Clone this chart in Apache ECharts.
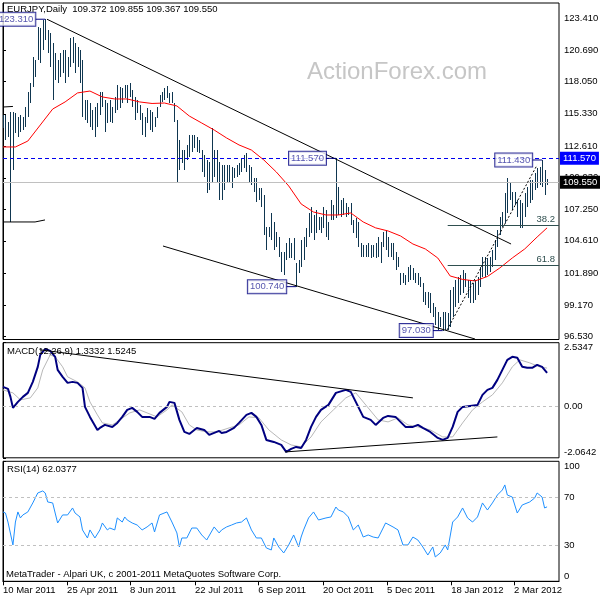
<!DOCTYPE html>
<html><head><meta charset="utf-8">
<script src="https://cdn.jsdelivr.net/npm/echarts@6/dist/echarts.min.js"></script>
<style>html,body{margin:0;padding:0;background:#fff}#c{width:600px;height:600px}</style>
</head><body><div id="c"></div>
<script>
// ---------------- data ----------------
const priceTickLabels = ['96.530','99.170','101.890','104.610','107.250','109.930','112.610','115.330','118.050','120.690','123.410'];
const dateLabels = ['10 Mar 2011','25 Apr 2011','8 Jun 2011','22 Jul 2011','6 Sep 2011','20 Oct 2011','5 Dec 2011','18 Jan 2012','2 Mar 2012'];
const dateTickIdx = [0, 25.8, 51.1, 77.3, 102.7, 128.8, 154.6, 180.4, 205.7];
const macdTickVals = [-2.0642, 0, 2.5347];
const macdTickLabels = ['-2.0642', '0.00', '2.5347'];
const rsiTickVals = [0, 30, 70, 100];

const highs = [
115.23,115.23,114.64,115.48,115.48,115.40,115.06,115.23,115.06,115.90,
117.17,117.93,120.12,119.87,122.65,122.57,123.25,123.31,122.40,122.15,
121.30,120.46,119.87,120.46,120.71,120.71,120.12,121.73,121.81,121.30,
120.97,120.71,119.87,116.49,116.49,116.24,115.65,115.90,116.24,117.17,
117.17,116.49,116.24,116.49,115.90,116.75,117.76,117.59,117.51,117.76,
117.76,117.93,117.34,116.75,116.49,116.07,115.40,115.06,115.82,115.65,
115.48,115.06,115.90,116.92,117.17,117.51,117.68,117.09,117.17,116.24,
114.81,113.12,112.27,112.27,112.70,113.54,113.54,113.54,113.37,113.12,
112.27,111.85,111.43,111.26,114.13,112.27,112.27,111.26,111.01,111.01,
111.01,111.01,110.84,110.76,111.01,111.18,111.60,111.85,112.02,111.01,
110.84,109.91,109.91,109.07,109.07,108.48,105.78,105.78,106.96,106.20,
105.36,104.93,103.67,103.67,104.43,104.85,104.43,104.85,102.74,102.99,
104.68,104.93,105.70,106.96,107.47,106.79,107.21,106.62,106.62,107.47,
107.21,106.20,108.06,107.63,111.57,109.15,108.06,108.23,107.80,107.47,
107.80,106.37,106.54,106.20,104.43,104.26,104.26,104.43,104.26,104.26,
104.43,104.93,104.51,105.36,105.53,104.93,104.43,104.43,103.67,103.25,
101.89,101.89,101.73,102.40,102.57,102.32,101.89,101.89,101.56,101.05,
100.29,100.29,100.21,99.37,99.03,98.60,98.18,98.60,98.60,98.52,
100.46,100.71,101.30,101.56,101.73,102.15,101.89,101.30,101.30,101.05,
101.30,101.56,102.40,103.25,103.25,103.16,103.25,103.84,104.68,105.53,
106.62,107.04,108.65,109.91,109.57,108.73,108.73,108.06,108.06,107.80,
108.65,109.15,109.74,109.74,110.33,110.76,110.84,111.43,110.59,109.855];
const lows = [
114.13,113.12,113.37,106.20,110.59,113.71,113.37,113.79,113.96,114.22,
115.06,116.24,117.59,118.44,119.87,119.62,120.71,121.56,120.46,119.28,
116.49,118.18,117.93,118.44,118.77,117.93,118.44,119.28,119.62,118.77,
119.28,117.93,115.06,114.81,114.55,114.22,113.96,113.37,114.22,115.23,
115.90,113.79,114.55,114.64,114.55,115.40,115.65,115.82,116.24,116.66,
116.24,116.75,115.90,114.81,115.40,114.81,113.54,113.37,114.55,113.96,
113.79,114.22,114.98,115.90,116.33,116.49,116.66,116.24,116.24,114.64,
109.49,110.59,111.18,110.59,111.43,111.68,112.11,112.44,112.11,112.02,
110.42,110.00,108.65,108.90,109.49,110.00,109.57,108.06,108.06,108.90,
109.57,109.49,109.07,109.91,110.00,110.17,110.42,110.76,110.42,109.57,
109.32,108.73,107.89,108.06,107.47,105.10,103.84,104.93,104.68,103.84,
104.09,103.25,101.98,101.73,102.99,103.16,103.16,102.99,100.74,101.89,
102.40,102.99,104.09,104.93,105.27,104.68,105.27,105.53,105.27,105.70,
104.93,104.68,106.37,106.37,106.54,106.79,106.62,106.79,106.62,106.79,
105.95,105.27,104.85,104.09,103.25,103.25,103.25,103.25,103.16,103.25,
103.16,103.25,102.74,104.09,103.84,103.25,103.25,102.99,102.15,102.40,
100.88,101.05,100.88,101.13,101.30,101.30,101.05,100.88,100.71,99.45,
99.20,98.94,98.52,98.18,97.51,97.08,97.34,97.03,97.08,97.08,
97.34,98.18,99.03,99.37,100.04,100.21,100.71,99.79,99.37,99.37,
99.62,100.04,100.71,101.56,101.56,101.73,101.98,102.40,102.99,104.09,
105.10,105.78,106.12,106.96,108.06,107.21,107.63,106.62,105.70,105.70,
106.62,107.47,107.80,108.06,108.90,109.07,109.32,109.15,108.48,109.367];

const maPts = [[0,112.53],[5,112.53],[10,113.03],[15,114.38],[20,115.73],[25,116.33],[30,117.09],[35,117.25],[40,116.75],[45,116.58],[50,116.58],[55,116.33],[60,116.20],[65,116.24],[70,115.99],[75,115.14],[80,114.55],[85,113.96],[90,113.29],[95,112.70],[100,112.27],[105,111.43],[110,110.42],[115,109.24],[120,107.72],[125,107.04],[130,106.79],[135,106.79],[140,106.96],[145,106.20],[150,105.70],[155,105.44],[160,105.02],[165,104.34],[170,103.92],[175,103.16],[180,101.64],[185,101.35],[190,101.22],[195,101.60],[200,102.32],[205,103.16],[210,103.92],[215,104.93],[219,105.70]];

const macdPts = [[0,0.77],[2,0.69],[3,0.37],[4,-0.07],[6,0.17],[8,0.37],[10,0.53],[12,0.97],[14,1.57],[15,2.05],[17,2.29],[19,2.21],[21,1.97],[22,1.45],[24,1.17],[26,0.93],[28,0.97],[30,0.93],[32,0.73],[33,-0.03],[35,-0.43],[38,-0.95],[39,-0.87],[41,-0.75],[44,-0.83],[46,-0.67],[48,-0.43],[50,-0.15],[52,-0.07],[54,-0.23],[56,-0.43],[59,-0.43],[61,-0.51],[63,-0.27],[66,-0.03],[67,0.17],[69,0.13],[71,-0.55],[73,-1.03],[75,-1.11],[76,-1.03],[78,-0.87],[81,-0.95],[83,-1.15],[85,-1.07],[87,-0.99],[88,-1.07],[90,-1.03],[93,-0.87],[95,-0.67],[98,-0.35],[100,-0.27],[102,-0.43],[104,-0.75],[106,-1.35],[109,-1.43],[112,-1.55],[114,-1.83],[116,-1.71],[118,-1.63],[120,-1.67],[122,-1.35],[124,-0.83],[126,-0.43],[128,-0.15],[131,0.05],[134,0.53],[138,0.65],[140,0.57],[143,-0.03],[145,-0.43],[148,-0.55],[150,-0.75],[153,-0.47],[155,-0.39],[158,-0.43],[160,-0.63],[162,-0.83],[165,-0.83],[167,-0.75],[169,-0.87],[172,-1.03],[175,-1.27],[177,-1.35],[179,-1.27],[181,-0.83],[183,-0.23],[185,-0.03],[188,0.01],[191,0.05],[193,0.45],[195,0.65],[197,0.73],[199,1.05],[201,1.45],[203,1.85],[205,1.97],[207,1.93],[209,1.57],[211,1.53],[213,1.53],[215,1.65],[217,1.57],[219,1.33]];

const signalPts = [[0,0.65],[4,0.53],[7,0.25],[11,0.33],[14,0.73],[16,1.45],[19,2.05],[21,1.97],[24,1.57],[26,1.17],[30,0.97],[33,0.73],[35,0.17],[38,-0.35],[40,-0.67],[44,-0.75],[47,-0.55],[51,-0.27],[55,-0.15],[58,-0.27],[62,-0.43],[66,-0.15],[68,0.05],[72,-0.23],[75,-0.75],[78,-0.95],[82,-1.03],[86,-1.03],[91,-0.87],[95,-0.75],[99,-0.43],[103,-0.47],[107,-0.95],[112,-1.35],[116,-1.55],[120,-1.63],[124,-1.23],[128,-0.63],[133,-0.15],[138,0.33],[142,0.53],[147,-0.07],[151,-0.55],[155,-0.63],[159,-0.47],[163,-0.75],[167,-0.83],[172,-0.95],[177,-1.23],[181,-1.23],[185,-0.67],[189,-0.15],[193,0.17],[197,0.45],[201,0.93],[205,1.57],[208,1.85],[212,1.73],[216,1.57],[219,1.52]];

const rsiPts = [[0,57.8],[1,56.9],[2,49.4],[4,30.3],[5,49.4],[6,57.8],[7,52.8],[8,55.3],[10,57.8],[12,65.3],[14,73.6],[16,75.3],[17,73.6],[18,66.1],[20,65.3],[21,56.9],[22,48.6],[24,55.3],[26,55.3],[28,61.1],[29,56.9],[31,53.6],[32,42.8],[34,36.1],[35,42.8],[37,36.1],[39,42.8],[40,48.6],[42,42.8],[43,44.4],[45,42.8],[46,52.8],[48,49.4],[49,53.6],[50,51.1],[52,48.6],[54,46.9],[56,42.8],[58,45.3],[60,48.6],[61,41.1],[63,55.3],[66,57.8],[67,53.6],[68,49.4],[70,40.3],[71,28.6],[72,36.1],[74,36.1],[76,44.4],[78,44.4],[80,38.6],[82,34.4],[85,45.3],[87,40.3],[88,42.8],[90,45.3],[92,46.9],[94,48.6],[96,49.4],[98,52.8],[100,42.8],[102,36.1],[104,36.1],[106,27.8],[108,26.1],[109,36.1],[111,28.6],[113,23.6],[115,30.3],[117,38.6],[119,28.6],[120,36.9],[121,42.8],[123,52.8],[125,57.8],[127,51.1],[130,52.8],[132,53.6],[134,61.9],[135,59.4],[137,57.8],[139,53.6],[141,42.8],[143,46.9],[145,36.9],[147,38.6],[149,36.9],[151,36.1],[153,44.4],[154,48.6],[157,45.3],[159,42.8],[161,30.3],[163,30.3],[165,36.9],[167,34.4],[169,28.6],[171,21.9],[173,28.6],[174,20.3],[176,23.6],[178,30.3],[179,26.1],[181,49.4],[183,53.6],[185,61.1],[187,52.8],[189,49.4],[191,53.6],[193,65.3],[195,59.4],[197,65.3],[199,71.9],[201,76.1],[202,80.3],[203,71.9],[205,70.2],[207,56.9],[209,63.6],[212,66.1],[214,69.4],[215,73.6],[217,70.2],[218,61.1],[219,62.04]];

// annotations and drawn objects (data coordinates)
const annotIdx = [17, 134, 118, 177, 217];
const annotPrice = [123.31, 111.57, 100.74, 97.03, 111.43];
const annotText = ['123.310', '111.570', '100.740', '97.030', '111.430'];
const priceTrendLines = [
  [[17.7,123.31],[204.5,104.34]],
  [[64.4,104.17],[190,96.32]],
  [[0,106.20],[12.9,106.20],[16.9,106.37]],
  [[0,115.90],[4,115.95]]
];
const risingDashed = [[178.7,97.08],[215,111.01]];
const fibLevels = [105.93, 102.53];
const fibLabels = ['38.2', '61.8'];
const fibStartIdx = 179;
const resistance = 111.57, lastClose = 109.55;
const macdTrendLines = [
  [[14.9,2.25],[165,0.33]],
  [[113.5,-1.83],[199,-1.23]]
];
const headerText = 'EURJPY,Daily  109.372 109.855 109.367 109.550';
const macdTitle = 'MACD(12,26,9) 1.3332 1.5245';
const rsiTitle = 'RSI(14) 62.0377';
const footerText = 'MetaTrader - Alpari UK, c 2001-2011 MetaQuotes Software Corp.';
const watermark = 'ActionForex.com';

// ---------------- chart ----------------
const FONT = 'Liberation Sans';
const FS = 9.5;
const X_MAX = 223.8;
const LEAD = 4;
const chart = echarts.init(document.getElementById('c'));

const bars = highs.map((h, i) => [i, h, lows[i]]);
const series = [];

series.push({
  type: 'custom', xAxisIndex: 0, yAxisIndex: 0, silent: true,
  encode: { x: 0, y: [1, 2] },
  renderItem: (params, api) => {
    const t = api.coord([api.value(0), api.value(1)]);
    const b = api.coord([api.value(0), api.value(2)]);
    return { type: 'rect', shape: { x: Math.round(t[0]), y: Math.round(t[1]), width: 1, height: Math.max(1, Math.round(b[1] - t[1])) },
      style: { fill: '#0f3650' } };
  },
  data: bars, z: 3
});

const markLineData = [
  { yAxis: resistance, lineStyle: { color: '#0000ee', type: [4, 3], width: 1 },
    label: { show: true, position: 'end', distance: 1, formatter: resistance.toFixed(3), color: '#fff', backgroundColor: '#0000ff', padding: [2, 3, 1, 3], fontSize: FS, fontFamily: FONT } },
  { yAxis: lastClose, lineStyle: { color: '#c0c0c0', type: 'solid', width: 1 },
    label: { show: true, position: 'end', distance: 1, formatter: lastClose.toFixed(3), color: '#fff', backgroundColor: '#000', padding: [2, 3, 1, 3], fontSize: FS, fontFamily: FONT } }
];
fibLevels.forEach((lv, k) => {
  markLineData.push([
    { coord: [fibStartIdx, lv], lineStyle: { color: '#2f4f4f', type: 'solid', width: 1 },
      label: { show: true, position: 'insideEndTop', distance: [4, 1], formatter: fibLabels[k], color: '#2f4f4f', fontSize: FS, fontFamily: FONT } },
    { coord: [X_MAX, lv] }
  ]);
});

series.push({
  type: 'line', xAxisIndex: 0, yAxisIndex: 0, data: maPts, symbol: 'none', silent: true,
  lineStyle: { color: '#ff0000', width: 1 }, z: 4,
  markLine: { symbol: ['none', 'none'], silent: true, animation: false, data: markLineData }
});

priceTrendLines.forEach(l => series.push({
  type: 'line', xAxisIndex: 0, yAxisIndex: 0, data: l, symbol: 'none', silent: true,
  lineStyle: { color: '#000', width: 1 }, z: 5
}));
series.push({
  type: 'line', xAxisIndex: 0, yAxisIndex: 0, data: risingDashed, symbol: 'none', silent: true,
  lineStyle: { color: '#000', width: 1, type: [2, 2] }, z: 5
});

annotIdx.forEach((ix, k) => {
  series.push({
    type: 'line', xAxisIndex: 0, yAxisIndex: 0, data: [[ix - LEAD, annotPrice[k]], [ix, annotPrice[k]]],
    symbol: 'none', silent: true, lineStyle: { color: '#000080', width: 1 }, z: 6
  });
});
series.push({
  type: 'scatter', xAxisIndex: 0, yAxisIndex: 0, symbolSize: 0, silent: true, z: 7,
  data: annotIdx.map((ix, k) => ({ value: [ix - LEAD, annotPrice[k]], name: annotText[k] })),
  label: { show: true, position: 'left', distance: 0, formatter: '{b}', color: '#2a2a9a',
    backgroundColor: '#fff', borderColor: '#000080', borderWidth: 1, padding: [2, 2, 1, 2], fontSize: FS, fontFamily: FONT }
});

// MACD
series.push({
  type: 'line', xAxisIndex: 1, yAxisIndex: 1, data: signalPts, symbol: 'none', silent: true,
  lineStyle: { color: '#b8b8b8', width: 1 }, z: 3,
  markLine: { symbol: ['none', 'none'], silent: true, animation: false, label: { show: false },
    data: [{ yAxis: 0, lineStyle: { color: '#c0c0c0', type: [3, 3], width: 1 } }] }
});
series.push({
  type: 'line', xAxisIndex: 1, yAxisIndex: 1, data: macdPts, symbol: 'none', silent: true,
  lineStyle: { color: '#000080', width: 2 }, z: 4
});
macdTrendLines.forEach(l => series.push({
  type: 'line', xAxisIndex: 1, yAxisIndex: 1, data: l, symbol: 'none', silent: true,
  lineStyle: { color: '#000', width: 1 }, z: 5
}));

// RSI
series.push({
  type: 'line', xAxisIndex: 2, yAxisIndex: 2, data: rsiPts, symbol: 'none', silent: true,
  lineStyle: { color: '#1e90ff', width: 1 }, z: 4,
  markLine: { symbol: ['none', 'none'], silent: true, animation: false, label: { show: false },
    data: [70, 30].map(v => ({ yAxis: v, lineStyle: { color: '#c0c0c0', type: [3, 3], width: 1 } })) }
});

const gridBase = { left: 3, right: 41, show: true, borderColor: '#000', borderWidth: 1, backgroundColor: '#fff', containLabel: false, outerBoundsMode: 'none' };
const labelStyle = { color: '#000', fontSize: FS, fontFamily: FONT };
const edgeRich = {
  t: { padding: [10, 0, 0, 0], color: '#000', fontSize: FS, fontFamily: FONT },
  b: { padding: [0, 0, 10, 0], color: '#000', fontSize: FS, fontFamily: FONT },
  m: { color: '#000', fontSize: FS, fontFamily: FONT }
};
function xAxisDef(idx, showLabels) {
  return {
    type: 'value', gridIndex: idx, min: 0, max: X_MAX,
    axisLine: { show: showLabels, lineStyle: { color: '#000' } },
    splitLine: { show: false },
    axisTick: showLabels ? { show: true, customValues: dateTickIdx, length: 4, lineStyle: { color: '#000' } } : { show: false },
    axisLabel: showLabels ? Object.assign({ show: true, customValues: dateTickIdx, align: 'left', margin: 4,
      formatter: v => dateLabels[dateTickIdx.indexOf(v)] }, labelStyle) : { show: false }
  };
}
const option = {
  animation: false,
  backgroundColor: '#fff',
  grid: [
    Object.assign({ top: 3, height: 336.5 }, gridBase),
    Object.assign({ top: 342.7, height: 115.1 }, gridBase),
    Object.assign({ top: 461.3, height: 120 }, gridBase)
  ],
  xAxis: [xAxisDef(0, false), xAxisDef(1, false), xAxisDef(2, true)],
  yAxis: [
    { type: 'value', gridIndex: 0, position: 'right', min: 96.28, max: 124.68, splitLine: { show: false },
      axisLine: { show: true, lineStyle: { color: '#000' } },
      axisTick: { show: true, length: 3, customValues: priceTickLabels.map(Number), lineStyle: { color: '#000' } },
      axisLabel: Object.assign({ customValues: priceTickLabels.map(Number), margin: 5,
        formatter: v => priceTickLabels[priceTickLabels.map(Number).indexOf(v)] }, labelStyle) },
    { type: 'value', gridIndex: 1, position: 'right', min: -2.0642, max: 2.5347, splitLine: { show: false },
      axisLine: { show: true, lineStyle: { color: '#000' } },
      axisTick: { show: true, length: 3, customValues: macdTickVals, lineStyle: { color: '#000' } },
      axisLabel: Object.assign({ customValues: macdTickVals, margin: 5, rich: edgeRich,
        formatter: v => { const k = macdTickVals.indexOf(v); const s = macdTickLabels[k];
          return k === macdTickVals.length - 1 ? '{t|' + s + '}' : (k === 0 ? '{b|' + s + '}' : '{m|' + s + '}'); } }, labelStyle) },
    { type: 'value', gridIndex: 2, position: 'right', min: 0, max: 100, splitLine: { show: false },
      axisLine: { show: true, lineStyle: { color: '#000' } },
      axisTick: { show: true, length: 3, customValues: rsiTickVals, lineStyle: { color: '#000' } },
      axisLabel: Object.assign({ customValues: rsiTickVals, margin: 5, rich: edgeRich,
        formatter: v => { const k = rsiTickVals.indexOf(v); const s = String(v);
          return k === rsiTickVals.length - 1 ? '{t|' + s + '}' : (k === 0 ? '{b|' + s + '}' : '{m|' + s + '}'); } }, labelStyle) }
  ],
  graphic: [
    { type: 'text', left: 307, top: 60, z: 1, silent: true, style: { text: watermark, font: '24px ' + FONT, fill: '#c6c6c6' } },
    { type: 'text', left: 7, top: 4.5, z: 100, silent: true, style: { text: headerText, font: FS + 'px ' + FONT, fill: '#000' } },
    { type: 'text', left: 7, top: 346.5, z: 100, silent: true, style: { text: macdTitle, font: FS + 'px ' + FONT, fill: '#000' } },
    { type: 'text', left: 7, top: 464, z: 100, silent: true, style: { text: rsiTitle, font: FS + 'px ' + FONT, fill: '#000' } },
    { type: 'text', left: 6, top: 569.5, z: 100, silent: true, style: { text: footerText, font: FS + 'px ' + FONT, fill: '#000' } }
  ],
  series: series
};
chart.setOption(option);
</script>
</body></html>
